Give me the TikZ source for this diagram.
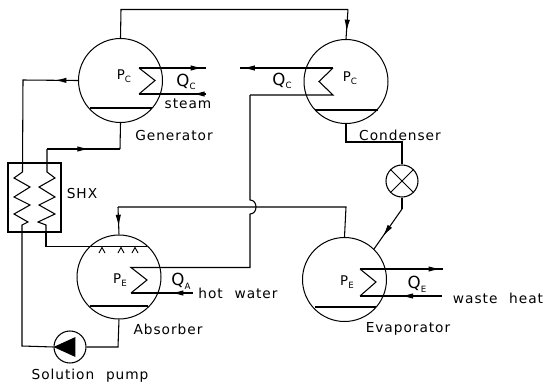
\documentclass[tikz,border=0pt]{standalone}
\usepackage{fontspec}
\setmainfont[LetterSpace=7,WordSpace=2.2]{DejaVu Sans}
\usetikzlibrary{arrows.meta,decorations.markings}
\tikzset{
  x=0.75pt,y=-0.75pt,
  pipe/.style={draw,line width=0.8pt,line join=miter},
  vessel/.style={circle,draw,line width=0.75pt,inner sep=0pt,minimum size=63pt},
  valvecirc/.style={circle,draw,line width=0.8pt,inner sep=0pt,minimum size=24pt},
  bar/.style={draw,line width=1pt},
  lbl/.style={inner sep=0pt,font=\fontsize{10.3}{12}\selectfont},
  plbl/.style={inner sep=0pt,font=\fontsize{10}{12}\selectfont},
  qlbl/.style={inner sep=0pt,font=\fontsize{12.5}{14}\selectfont},
  midflow/.style={postaction={decorate},decoration={markings,mark=at position #1 with {\arrow{Latex[length=9pt,width=4pt]}}}},
}
\newcommand{\PQ}[2]{#1\raisebox{-0.4ex}{\fontsize{6.5}{7}\selectfont #2}}
\begin{document}
\begin{tikzpicture}
\useasboundingbox (0,0) rectangle (547,386);
% vessels
\node[vessel] (gen) at (120.5,80.5) {};
\node[vessel] (con) at (346,81.5) {};
\node[vessel] (abs) at (119,277) {};
\node[vessel] (eva) at (344.5,279.5) {};
\node[valvecirc] (valve) at (402,181) {};
\node[valvecirc] (pump) at (70,347) {};
\node[draw,line width=0.8pt,inner sep=0pt,minimum width=39.75pt,minimum height=51.75pt] (shx) at (34.5,197.5) {};
% valve cross
\draw[line width=0.7pt] (valve.north west) -- (valve.south east) (valve.north east) -- (valve.south west);
% pump triangle
\fill (pump.west) -- ++(22,-10) -- ++(0,20) -- cycle;
% liquid levels
\draw[bar] (90,108) -- (152,108);
\draw[bar] (315,110) -- (378,110);
\draw[bar] (90,306) -- (148,306);
\draw[bar] (315,307) -- (376,307);
% spray bar
\coordinate (sprayL) at (46,246.5);
\coordinate (sprayR) at (147,246.5);
\draw[bar] (sprayL) -- (sprayR);
\foreach \x in {102,121,135}{\draw[line width=0.7pt] (\x-3,253) -- (\x,247.5) -- (\x+3,253);}
% heat exchanger coils in vessels and their lines
\coordinate (gh0) at (139,68); \coordinate (gh3) at (139,94);
\coordinate (gh1) at (206,68); \coordinate (gh2) at (206,94);
\coordinate (ch0) at (333,68); \coordinate (ch3) at (333,95);
\coordinate (ch1) at (240,68); \coordinate (ch2) at (250,95);
\coordinate (ah0) at (131,267.5); \coordinate (ah3) at (131,293);
\coordinate (ah1) at (250,267.5); \coordinate (ah2) at (193,293);
\coordinate (eh0) at (360,269); \coordinate (eh3) at (360,296);
\coordinate (eh1) at (443,269); \coordinate (eh2) at (442,296);
\draw[pipe,midflow=0.95] (gh0) -- (gh1);
\draw[pipe] (gh0) -- (155,80.5) -- (gh3);
\draw[pipe,midflow=0.2] (gh2) -- (gh3);
\draw[pipe] (ch0) -- (ch1);
\draw[pipe,midflow=0.97] (ch0) -- (ch1);
\draw[pipe] (ch0) -- (319,81.5) -- (ch3) -- (ch2);
\draw[pipe] (ch2) -- (250,200) .. controls (258,200) and (258,214) .. (250,214) -- (ah1) -- (ah0) -- (147,280) -- (ah3);
\draw[pipe,midflow=0.35] (ah2) -- (ah3);
\draw[pipe,midflow=0.97] (eh0) -- (eh1);
\draw[pipe] (eh0) -- (376,282) -- (eh3);
\draw[pipe,midflow=0.5] (eh2) -- (eh3);
% refrigerant vapour line
\coordinate (vt1) at (121,9.5); \coordinate (vt2) at (348,9.5);
\draw[pipe] (gen.north) -- (vt1) -- (vt2);
\draw[pipe,midflow=0.75] (vt2) -- (con.north);
% strong solution generator -> SHX
\coordinate (g1) at (23,80);
\coordinate (sl) at (22.5,172);
\draw[pipe,midflow=0.16] (gen.west) -- (g1) -- (sl);
\draw[pipe] (sl) -- (14,178) -- (30,187) -- (14,197) -- (30,205) -- (14,214) -- (28,222) -- (22,225) -- (22,232);
% weak solution SHX -> generator
\coordinate (g2) at (120,149); \coordinate (g3) at (47,149);
\draw[pipe,midflow=0.58] (g3) -- (g2);
\draw[pipe] (g2) -- (gen.south);
\draw[pipe] (g3) -- (47,172) -- (55,178) -- (39,187) -- (55,197) -- (39,205) -- (55,214) -- (38,222) -- (46,225) -- (46,232);
% SHX -> spray
\draw[pipe] (46,232) -- (sprayL);
% SHX -> pump -> absorber
\coordinate (p1) at (22,346);
\draw[pipe] (22,232) -- (p1) -- (pump.west);
\coordinate (p2) at (118,347);
\draw[pipe] (pump.east) -- (p2) -- (abs.south);
% evaporator vapour -> absorber
\coordinate (a1) at (118,207); \coordinate (a2) at (346,207);
\draw[pipe] (eva.north) -- (a2) -- (a1);
\draw[pipe,midflow=0.72] (a1) -- (abs.north);
% condenser -> valve -> evaporator
\coordinate (c1) at (346,142); \coordinate (c2) at (402,142);
\draw[pipe] (con.south) -- (c1) -- (c2) -- (valve.north);
\coordinate (v1) at (402,209); \coordinate (e1) at (374,249);
\draw[pipe,midflow=0.68] (v1) -- (e1);
\draw[pipe] (valve.south) -- (v1);
% labels
\node[lbl] (lgen) at (174,135) {Generator};
\node[lbl] (lcon) at (400,135.5) {Condenser};
\node[lbl] (labs) at (168,329) {Absorber};
\node[lbl] (leva) at (408,329) {Evaporator};
\node[lbl] (lshx) at (82,193) {SHX};
\node[lbl] (lpump) at (90,376) {Solution pump};
\node[lbl] (lsteam) at (188,104) {steam};
\node[lbl] (lhot) at (238,293.5) {hot water};
\node[lbl] (lwaste) at (498,298) {waste heat};
\node[qlbl] (qg) at (186,82) {\PQ{Q}{C}};
\node[qlbl] (qc) at (282,81) {\PQ{Q}{C}};
\node[qlbl] (qa) at (181,281) {\PQ{Q}{A}};
\node[qlbl] (qe) at (417,284) {\PQ{Q}{E}};
\node[plbl] (pg) at (124,76.5) {\PQ{P}{C}};
\node[plbl] (pc) at (350,78) {\PQ{P}{C}};
\node[plbl] (pa) at (120,280) {\PQ{P}{E}};
\node[plbl] (pe) at (347,282) {\PQ{P}{E}};
\end{tikzpicture}
\end{document}
